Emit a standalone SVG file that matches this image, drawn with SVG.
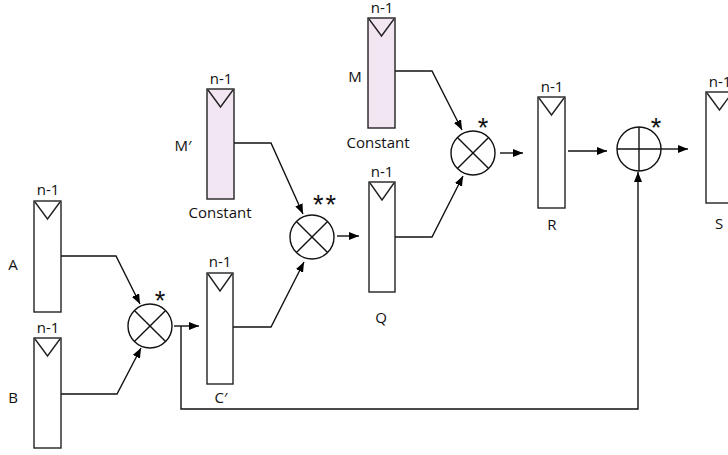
<svg xmlns="http://www.w3.org/2000/svg" width="728" height="455" viewBox="0 0 728 455">
<defs>
<marker id="ah" viewBox="0 0 10 8" refX="10" refY="4" markerWidth="10" markerHeight="8" markerUnits="userSpaceOnUse" orient="auto">
<path d="M0,0 L10,4 L0,8 Z" fill="#000"/>
</marker>
<style>
.reg{fill:#fff;stroke:#222;stroke-width:1.4}
.const{fill:#f3e6f3;stroke:#222;stroke-width:1.4}
.tri{fill:none;stroke:#222;stroke-width:1.4}
.op{fill:#fff;stroke:#111;stroke-width:1.4}
.opl{stroke:#111;stroke-width:1.4}
.c{fill:none;stroke:#111;stroke-width:1.4}
.t{font-family:"Open Sans","Noto Sans",sans-serif;font-size:15px;fill:#111;text-anchor:middle}
.s{font-family:"Liberation Sans",Arial,sans-serif;font-size:27px;fill:#111;text-anchor:middle}
</style>
</defs>
<rect width="728" height="455" fill="#fff"/>
<g id="connectors">
<polyline class="c" points="61,256 116,256 140,304" marker-end="url(#ah)"/>
<polyline class="c" points="61,394 117,394 141,348" marker-end="url(#ah)"/>
<line class="c" x1="174" y1="326" x2="199" y2="326" marker-end="url(#ah)"/>
<polyline class="c" points="181,326 181,409 638,409 638,172" marker-end="url(#ah)"/>
<polyline class="c" points="234,143 271,143 303,214" marker-end="url(#ah)"/>
<polyline class="c" points="233,327 271,327 304,262" marker-end="url(#ah)"/>
<line class="c" x1="337" y1="236" x2="359" y2="236" marker-end="url(#ah)"/>
<polyline class="c" points="395,71 432,71 462,130" marker-end="url(#ah)"/>
<polyline class="c" points="395,237 432,237 463,176" marker-end="url(#ah)"/>
<line class="c" x1="500" y1="153" x2="523" y2="153" marker-end="url(#ah)"/>
<line class="c" x1="568" y1="151" x2="607" y2="151" marker-end="url(#ah)"/>
<line class="c" x1="661" y1="149" x2="688" y2="149" marker-end="url(#ah)"/>
</g>
<g id="regA">
<rect class="reg" x="34" y="201" width="27" height="111"/>
<polyline class="tri" points="35,202 47.5,219 60,202"/>
<text class="t" x="48" y="195">n-1</text>
<text class="t" x="13" y="270">A</text>
</g>
<g id="regB">
<rect class="reg" x="34" y="338" width="27" height="110"/>
<polyline class="tri" points="35,339 47.5,356 60,339"/>
<text class="t" x="48" y="333">n-1</text>
<text class="t" x="13" y="403">B</text>
</g>
<g id="mul1">
<circle class="op" cx="150" cy="326" r="22"/>
<line class="opl" x1="134.4" y1="310.4" x2="165.6" y2="341.6"/>
<line class="opl" x1="165.6" y1="310.4" x2="134.4" y2="341.6"/>
<text class="s" x="160" y="310">*</text>
</g>
<g id="regC">
<rect class="reg" x="207" y="273" width="26" height="111"/>
<polyline class="tri" points="208,274 220,291 232,274"/>
<text class="t" x="220" y="267">n-1</text>
<text class="t" x="221" y="403">C′</text>
</g>
<g id="regMp">
<rect class="const" x="207" y="89" width="27" height="110"/>
<polyline class="tri" points="208,90 220.5,107 233,90"/>
<text class="t" x="221" y="84">n-1</text>
<text class="t" x="183" y="151">M′</text>
<text class="t" x="220" y="218">Constant</text>
</g>
<g id="mul2">
<circle class="op" cx="312" cy="237" r="22"/>
<line class="opl" x1="296.4" y1="221.4" x2="327.6" y2="252.6"/>
<line class="opl" x1="327.6" y1="221.4" x2="296.4" y2="252.6"/>
<text class="s" x="313" y="214" style="text-anchor:start;letter-spacing:2px">**</text>
</g>
<g id="regQ">
<rect class="reg" x="369" y="182" width="26" height="110"/>
<polyline class="tri" points="370,183 382,200 394,183"/>
<text class="t" x="382" y="177">n-1</text>
<text class="t" x="381" y="323">Q</text>
</g>
<g id="regM">
<rect class="const" x="368" y="18" width="27" height="110"/>
<polyline class="tri" points="369,19 381.5,36 394,19"/>
<text class="t" x="382" y="13">n-1</text>
<text class="t" x="355" y="82">M</text>
<text class="t" x="378" y="148">Constant</text>
</g>
<g id="mul3">
<circle class="op" cx="473" cy="153" r="22"/>
<line class="opl" x1="457.4" y1="137.4" x2="488.6" y2="168.6"/>
<line class="opl" x1="488.6" y1="137.4" x2="457.4" y2="168.6"/>
<text class="s" x="483" y="137">*</text>
</g>
<g id="regR">
<rect class="reg" x="538" y="97" width="27" height="111"/>
<polyline class="tri" points="539,98 551.5,115 564,98"/>
<text class="t" x="552" y="92">n-1</text>
<text class="t" x="552" y="230">R</text>
</g>
<g id="add">
<circle class="op" cx="639" cy="149" r="22"/>
<line class="opl" x1="617" y1="149" x2="661" y2="149"/>
<line class="opl" x1="639" y1="127" x2="639" y2="171"/>
<text class="s" x="656" y="137">*</text>
</g>
<g id="regS">
<rect class="reg" x="706" y="92" width="27" height="111"/>
<polyline class="tri" points="707,93 719.5,110 732,93"/>
<text class="t" x="720" y="87">n-1</text>
<text class="t" x="719" y="229">S</text>
</g>
</svg>
